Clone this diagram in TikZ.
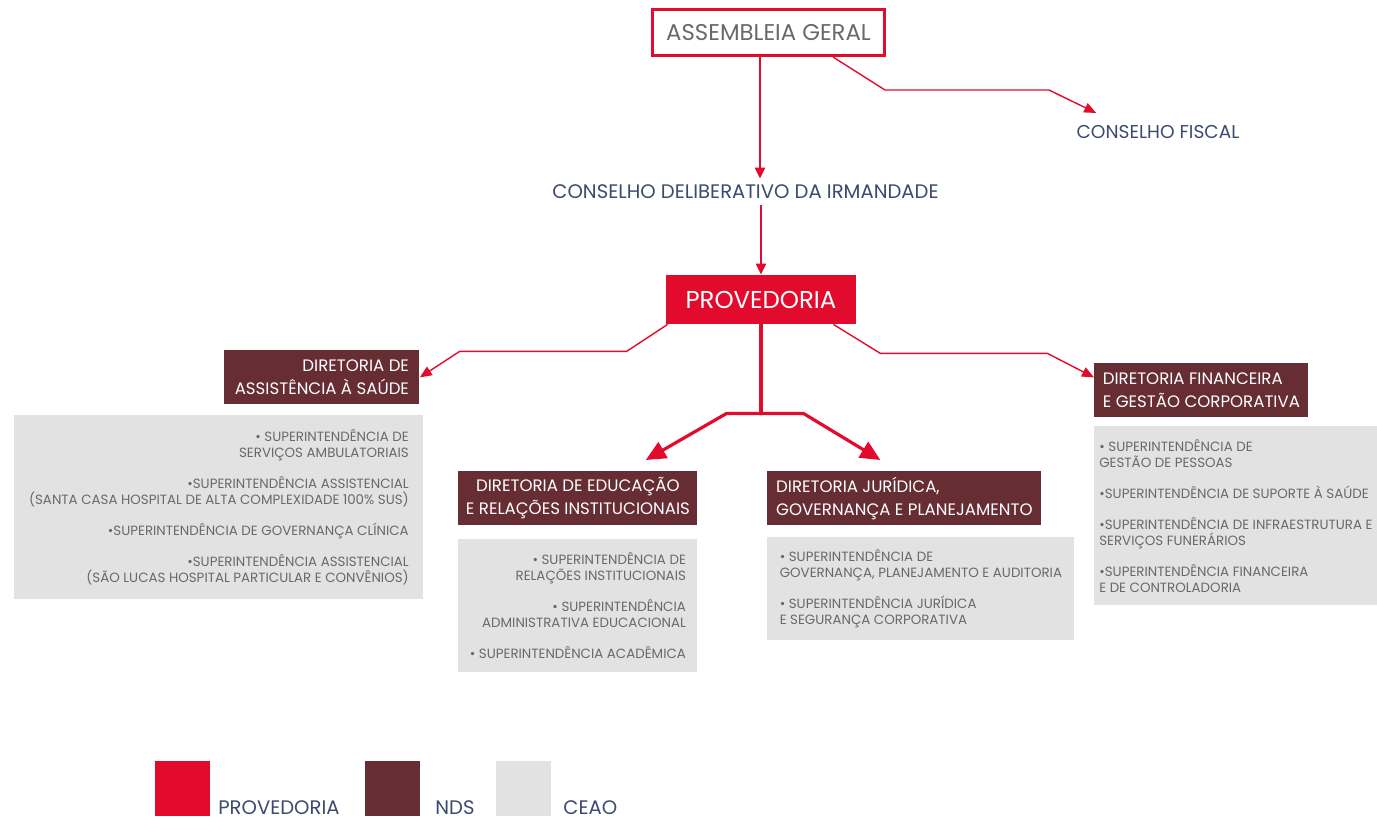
\documentclass[tikz,border=0pt]{standalone}
\usepackage{fontspec}
\setmainfont{Poppins}
\usetikzlibrary{arrows.meta}

\definecolor{provred}{RGB}{227,11,45}
\definecolor{nds}{RGB}{102,45,51}
\definecolor{ceao}{RGB}{226,226,226}
\definecolor{navy}{RGB}{60,74,110}
\definecolor{txtgray}{RGB}{105,105,105}

\begin{document}
\begin{tikzpicture}[x=0.5pt, y=-0.5pt,
        label/.style={text=navy, font=\fontsize{9.8}{11}\selectfont, inner sep=0pt},
        dirbox/.style={fill=nds, text=white, font=\fontsize{8.3}{11.5}\selectfont, minimum height=27pt, inner sep=0pt, anchor=north west},
        supbox/.style={fill=ceao, text=txtgray, font=\fontsize{6.7}{8}\selectfont, inner sep=0pt, anchor=north west},
        legbox/.style={minimum size=27.5pt, inner sep=0pt, anchor=north west},
        legtxt/.style={text=navy, font=\fontsize{9.8}{11}\selectfont, inner sep=0pt, anchor=base west},
        tline/.style={provred, line width=0.7pt, -{Triangle[length=6pt,width=5pt]}},
        vline/.style={provred, line width=1.2pt, -{Triangle[length=5.5pt,width=5pt]}},
        kline/.style={provred, line width=1.6pt},
        karrow/.style={kline, -{Triangle[length=10pt,width=9pt]}}
    ]
    \useasboundingbox (0,0) rectangle (1377,821);
    % Nodos
    \node[draw=provred, line width=1.5pt, fill=white, text=txtgray, font=\fontsize{11.4}{13}\selectfont,
          minimum width=116pt, minimum height=23pt, inner sep=0pt] (asm) at (768.5,32.5) {ASSEMBLEIA GERAL};
    \node[label, font=\fontsize{9.3}{11}\selectfont] (fiscal) at (1158,132) {CONSELHO FISCAL};
    \node[label, inner sep=3pt] (delib) at (745.5,192) {CONSELHO DELIBERATIVO DA IRMANDADE};
    \node[fill=provred, text=white, font=\fontsize{12.2}{13}\selectfont,
          minimum width=95pt, minimum height=24.5pt, inner sep=0pt] (prov) at (761,299.5) {PROVEDORIA};

    \node[dirbox, minimum width=97.5pt, align=right] (assist) at (224,350) {DIRETORIA DE\\ASSISTÊNCIA À SAÚDE};
    \node[supbox, minimum width=204.5pt, minimum height=92pt, align=right] (assistSup) at (14,415)
        {• SUPERINTENDÊNCIA DE\\SERVIÇOS AMBULATORIAIS\\[7.5pt]
         •SUPERINTENDÊNCIA ASSISTENCIAL\\(SANTA CASA HOSPITAL DE ALTA COMPLEXIDADE 100\% SUS)\\[7.5pt]
         •SUPERINTENDÊNCIA DE GOVERNANÇA CLÍNICA\\[7.5pt]
         •SUPERINTENDÊNCIA ASSISTENCIAL\\(SÃO LUCAS HOSPITAL PARTICULAR E CONVÊNIOS)};

    \node[dirbox, minimum width=119.5pt, align=center] (edu) at (458,471) {DIRETORIA DE EDUCAÇÃO\\E RELAÇÕES INSTITUCIONAIS};
    \node[supbox, minimum width=119.5pt, minimum height=66.5pt, align=right] (eduSup) at (458,539)
        {• SUPERINTENDÊNCIA DE\\RELAÇÕES INSTITUCIONAIS\\[7.5pt]
         • SUPERINTENDÊNCIA\\ADMINISTRATIVA EDUCACIONAL\\[7.5pt]
         • SUPERINTENDÊNCIA ACADÊMICA};

    \node[dirbox, minimum width=137pt, align=left] (jur) at (767,471) {DIRETORIA JURÍDICA,\\GOVERNANÇA E PLANEJAMENTO};
    \node[supbox, minimum width=153.5pt, minimum height=51.5pt, align=left] (jurSup) at (767,537)
        {• SUPERINTENDÊNCIA DE\\GOVERNANÇA, PLANEJAMENTO E AUDITORIA\\[7.5pt]
         • SUPERINTENDÊNCIA JURÍDICA\\E SEGURANÇA CORPORATIVA};

    \node[dirbox, minimum width=107pt, align=left] (fin) at (1094,363) {DIRETORIA FINANCEIRA\\E GESTÃO CORPORATIVA};
    \node[supbox, minimum width=141.5pt, minimum height=89.5pt, align=left] (finSup) at (1094,426)
        {• SUPERINTENDÊNCIA DE\\GESTÃO DE PESSOAS\\[7.5pt]
         •SUPERINTENDÊNCIA DE SUPORTE À SAÚDE\\[7.5pt]
         •SUPERINTENDÊNCIA DE INFRAESTRUTURA E\\SERVIÇOS FUNERÁRIOS\\[7.5pt]
         •SUPERINTENDÊNCIA FINANCEIRA\\E DE CONTROLADORIA};

    % Legenda
    \node[legbox, fill=provred] (legProv) at (155,761) {};
    \node[legtxt] (legProvTxt) at (218,814) {PROVEDORIA};
    \node[legbox, fill=nds] (legNds) at (365,761) {};
    \node[legtxt] (legNdsTxt) at (435,814) {NDS};
    \node[legbox, fill=ceao] (legCeao) at (496,761) {};
    \node[legtxt] (legCeaoTxt) at (563,814) {CEAO};

    % Flechas
    \draw[vline] ([xshift=-4.25pt]asm.south) -- ([xshift=-4.25pt]asm.south |- delib.north);
    \draw[tline] ([xshift=-26.5pt]asm.south east) -- ++(52,33) -- ++(164,0) -- ([xshift=10pt,yshift=6pt]fiscal.north west);
    \draw[vline] (prov.north |- delib.south) -- (prov.north);

    \draw[tline] ([xshift=1pt]prov.south west) -- ++(-41,27) -- ++(-167,0) -- (assist.east);
    \draw[tline] ([xshift=-11.5pt]prov.south east) -- ++(47,29) -- ++(167,0) -- ([yshift=6.5pt]fin.west);

    \draw[kline] (prov.south) -- ++(0,89) coordinate (split);
    \draw[karrow] ([xshift=0.8pt]split) -- ++(-36,0) -- ([xshift=-26pt,yshift=5.5pt]edu.north east);
    \draw[karrow] ([xshift=-0.8pt]split) -- ++(44,0) -- ([xshift=-12pt,yshift=5.5pt]jur.north);
\end{tikzpicture}
\end{document}
